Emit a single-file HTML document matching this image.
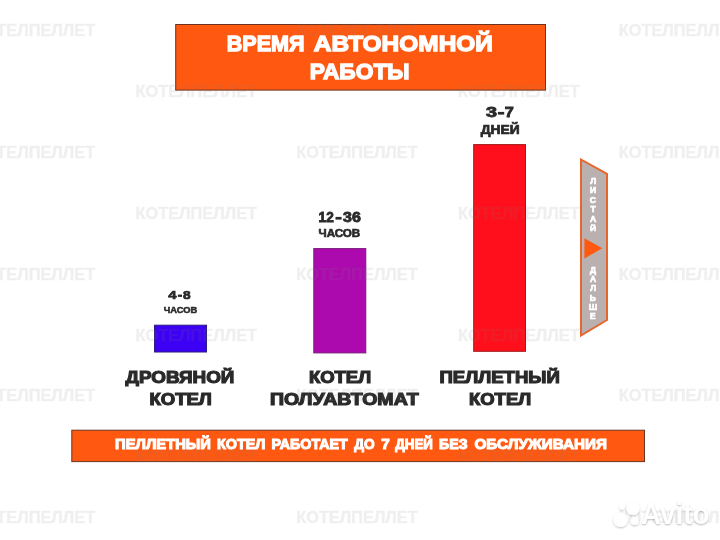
<!DOCTYPE html>
<html lang="ru"><head><meta charset="utf-8"><title>Время автономной работы</title>
<style>
html,body{margin:0;padding:0;width:720px;height:540px;overflow:hidden;background:#fff;}
#root{will-change:transform;width:720px;height:540px;position:absolute;left:0;top:0;overflow:hidden;background:#fff;font-family:"Liberation Sans",sans-serif;font-weight:bold;}
.t,.w{position:absolute;left:0;top:0;white-space:nowrap;transform-origin:0 0;font-weight:bold;font-size:100px;line-height:100px;}
.box{position:absolute;box-sizing:border-box;}
svg{position:absolute;left:0;top:0;}
</style></head><body><div id="root">

<svg width="720" height="540" viewBox="0 0 720 540">
<rect x="175.7" y="24.5" width="369.8" height="65.6" fill="#ff5810" stroke="#6a3520" stroke-width="1"/>
<rect x="154.55" y="325.2" width="51.95" height="26.8" fill="#3c00f4" stroke="#2a1a80" stroke-width="1"/>
<rect x="313.8" y="248.6" width="52" height="104.3" fill="#ac0aae" stroke="#7a1a7a" stroke-width="1"/>
<rect x="473.7" y="144.6" width="51.8" height="206.7" fill="#ff0f1c" stroke="#a01a1a" stroke-width="1"/>
<rect x="71.8" y="430.2" width="572.7" height="31.4" fill="#ff5810" stroke="#6a3520" stroke-width="1"/>
<polygon points="581,159.5 607,173.9 607,320 581,335.6" fill="#bbb0b0" stroke="#e6662e" stroke-width="2"/>
<rect x="497.9" y="111.9" width="6.3" height="2.7" fill="#2a2a2a"/>
<rect x="335.5" y="216.9" width="6.1" height="2.7" fill="#2a2a2a"/>
<rect x="177.9" y="294.6" width="4.1" height="2.3" fill="#2a2a2a"/>
<polygon points="584.4,238.2 602.3,248.3 584.4,258.4" fill="#ff5810"/>
</svg>
<span class="t" style="transform:translate(226.75px,31.71px) scale(0.2157,0.2233);color:#fff;-webkit-text-stroke:6.0px #fff;">ВРЕМЯ</span>
<span class="t" style="transform:translate(313.87px,31.71px) scale(0.2445,0.2233);color:#fff;-webkit-text-stroke:6.0px #fff;">АВТОНОМНОЙ</span>
<span class="t" style="transform:translate(309.70px,59.67px) scale(0.2277,0.2267);color:#fff;-webkit-text-stroke:6.0px #fff;">РАБОТЫ</span>
<span class="t" style="transform:translate(486.00px,104.80px) scale(0.1982,0.1481);color:#2a2a2a;-webkit-text-stroke:6.0px #2a2a2a;">3</span>
<span class="t" style="transform:translate(504.76px,104.80px) scale(0.1619,0.1481);color:#2a2a2a;-webkit-text-stroke:6.0px #2a2a2a;">7</span>
<span class="t" style="transform:translate(480.68px,123.38px) scale(0.1380,0.1213);color:#2a2a2a;-webkit-text-stroke:6.0px #2a2a2a;">ДНЕЙ</span>
<span class="t" style="transform:translate(318.62px,209.91px) scale(0.1362,0.1468);color:#2a2a2a;-webkit-text-stroke:6.0px #2a2a2a;">12</span>
<span class="t" style="transform:translate(342.98px,209.91px) scale(0.1604,0.1468);color:#2a2a2a;-webkit-text-stroke:6.0px #2a2a2a;">36</span>
<span class="t" style="transform:translate(318.51px,228.33px) scale(0.1159,0.1013);color:#2a2a2a;-webkit-text-stroke:6.0px #2a2a2a;">ЧАСОВ</span>
<span class="t" style="transform:translate(168.22px,289.56px) scale(0.1487,0.1169);color:#2a2a2a;-webkit-text-stroke:6.0px #2a2a2a;">4</span>
<span class="t" style="transform:translate(183.10px,289.56px) scale(0.1369,0.1169);color:#2a2a2a;-webkit-text-stroke:6.0px #2a2a2a;">8</span>
<span class="t" style="transform:translate(163.87px,306.35px) scale(0.0925,0.0840);color:#2a2a2a;-webkit-text-stroke:6.0px #2a2a2a;">ЧАСОВ</span>
<span class="t" style="transform:translate(125.47px,367.93px) scale(0.1885,0.1724);color:#2a2a2a;-webkit-text-stroke:7.0px #2a2a2a;">ДРОВЯНОЙ</span>
<span class="t" style="transform:translate(149.44px,391.04px) scale(0.1853,0.1632);color:#2a2a2a;-webkit-text-stroke:7.0px #2a2a2a;">КОТЕЛ</span>
<span class="t" style="transform:translate(308.95px,367.93px) scale(0.1846,0.1724);color:#2a2a2a;-webkit-text-stroke:7.0px #2a2a2a;">КОТЕЛ</span>
<span class="t" style="transform:translate(269.91px,391.04px) scale(0.1957,0.1632);color:#2a2a2a;-webkit-text-stroke:7.0px #2a2a2a;">ПОЛУАВТОМАТ</span>
<span class="t" style="transform:translate(439.44px,367.93px) scale(0.1856,0.1724);color:#2a2a2a;-webkit-text-stroke:7.0px #2a2a2a;">ПЕЛЛЕТНЫЙ</span>
<span class="t" style="transform:translate(468.95px,391.04px) scale(0.1849,0.1632);color:#2a2a2a;-webkit-text-stroke:7.0px #2a2a2a;">КОТЕЛ</span>
<span class="t" style="transform:translate(115.09px,437.23px) scale(0.1477,0.1425);color:#fff;-webkit-text-stroke:7.5px #fff;">ПЕЛЛЕТНЫЙ</span>
<span class="t" style="transform:translate(217.11px,437.23px) scale(0.1435,0.1425);color:#fff;-webkit-text-stroke:7.5px #fff;">КОТЕЛ</span>
<span class="t" style="transform:translate(271.61px,437.23px) scale(0.1422,0.1425);color:#fff;-webkit-text-stroke:7.5px #fff;">РАБОТАЕТ</span>
<span class="t" style="transform:translate(354.13px,437.23px) scale(0.1370,0.1425);color:#fff;-webkit-text-stroke:7.5px #fff;">ДО</span>
<span class="t" style="transform:translate(381.14px,437.41px) scale(0.1528,0.1389);color:#fff;-webkit-text-stroke:7.5px #fff;">7</span>
<span class="t" style="transform:translate(395.37px,437.23px) scale(0.1330,0.1425);color:#fff;-webkit-text-stroke:7.5px #fff;">ДНЕЙ</span>
<span class="t" style="transform:translate(439.11px,437.23px) scale(0.1418,0.1425);color:#fff;-webkit-text-stroke:7.5px #fff;">БЕЗ</span>
<span class="t" style="transform:translate(474.46px,437.23px) scale(0.1526,0.1425);color:#fff;-webkit-text-stroke:7.5px #fff;">ОБСЛУЖИВАНИЯ</span>
<span class="t" style="transform:translate(590.26px,176.71px) scale(0.0857,0.0857);color:#fff;-webkit-text-stroke:8.0px #fff">Л</span>
<span class="t" style="transform:translate(589.94px,186.11px) scale(0.0857,0.0857);color:#fff;-webkit-text-stroke:8.0px #fff">И</span>
<span class="t" style="transform:translate(589.85px,195.51px) scale(0.0857,0.0857);color:#fff;-webkit-text-stroke:8.0px #fff">С</span>
<span class="t" style="transform:translate(590.39px,204.91px) scale(0.0857,0.0857);color:#fff;-webkit-text-stroke:8.0px #fff">Т</span>
<span class="t" style="transform:translate(589.91px,214.31px) scale(0.0857,0.0857);color:#fff;-webkit-text-stroke:8.0px #fff">А</span>
<span class="t" style="transform:translate(589.94px,224.52px) scale(0.0857,0.0766);color:#fff;-webkit-text-stroke:8.0px #fff">Й</span>
<span class="t" style="transform:translate(590.02px,265.73px) scale(0.0844,0.0844);color:#fff;-webkit-text-stroke:8.0px #fff">Д</span>
<span class="t" style="transform:translate(589.96px,274.97px) scale(0.0844,0.0844);color:#fff;-webkit-text-stroke:8.0px #fff">А</span>
<span class="t" style="transform:translate(590.30px,284.21px) scale(0.0844,0.0844);color:#fff;-webkit-text-stroke:8.0px #fff">Л</span>
<span class="t" style="transform:translate(589.83px,293.45px) scale(0.0844,0.0844);color:#fff;-webkit-text-stroke:8.0px #fff">Ь</span>
<span class="t" style="transform:translate(588.76px,302.69px) scale(0.0844,0.0844);color:#fff;-webkit-text-stroke:8.0px #fff">Ш</span>
<span class="t" style="transform:translate(590.07px,311.93px) scale(0.0844,0.0844);color:#fff;-webkit-text-stroke:8.0px #fff">Е</span>
<span class="w" style="transform:translate(-26.42px,22.64px) scale(0.1635,0.1611);color:#808080;-webkit-text-stroke:3.0px #808080;opacity:0.118;">КОТЕЛПЕЛЛЕТ</span>
<span class="w" style="transform:translate(296.18px,22.64px) scale(0.1635,0.1611);color:#808080;-webkit-text-stroke:3.0px #808080;opacity:0.118;">КОТЕЛПЕЛЛЕТ</span>
<span class="w" style="transform:translate(618.78px,22.64px) scale(0.1635,0.1611);color:#808080;-webkit-text-stroke:3.0px #808080;opacity:0.118;">КОТЕЛПЕЛЛЕТ</span>
<span class="w" style="transform:translate(135.48px,83.49px) scale(0.1635,0.1611);color:#808080;-webkit-text-stroke:3.0px #808080;opacity:0.118;">КОТЕЛПЕЛЛЕТ</span>
<span class="w" style="transform:translate(458.08px,83.49px) scale(0.1635,0.1611);color:#808080;-webkit-text-stroke:3.0px #808080;opacity:0.118;">КОТЕЛПЕЛЛЕТ</span>
<span class="w" style="transform:translate(-26.42px,144.34px) scale(0.1635,0.1611);color:#808080;-webkit-text-stroke:3.0px #808080;opacity:0.118;">КОТЕЛПЕЛЛЕТ</span>
<span class="w" style="transform:translate(296.18px,144.34px) scale(0.1635,0.1611);color:#808080;-webkit-text-stroke:3.0px #808080;opacity:0.118;">КОТЕЛПЕЛЛЕТ</span>
<span class="w" style="transform:translate(618.78px,144.34px) scale(0.1635,0.1611);color:#808080;-webkit-text-stroke:3.0px #808080;opacity:0.118;">КОТЕЛПЕЛЛЕТ</span>
<span class="w" style="transform:translate(135.48px,205.19px) scale(0.1635,0.1611);color:#808080;-webkit-text-stroke:3.0px #808080;opacity:0.118;">КОТЕЛПЕЛЛЕТ</span>
<span class="w" style="transform:translate(458.08px,205.19px) scale(0.1635,0.1611);color:#808080;-webkit-text-stroke:3.0px #808080;opacity:0.118;">КОТЕЛПЕЛЛЕТ</span>
<span class="w" style="transform:translate(-26.42px,266.04px) scale(0.1635,0.1611);color:#808080;-webkit-text-stroke:3.0px #808080;opacity:0.118;">КОТЕЛПЕЛЛЕТ</span>
<span class="w" style="transform:translate(296.18px,266.04px) scale(0.1635,0.1611);color:#808080;-webkit-text-stroke:3.0px #808080;opacity:0.118;">КОТЕЛПЕЛЛЕТ</span>
<span class="w" style="transform:translate(618.78px,266.04px) scale(0.1635,0.1611);color:#808080;-webkit-text-stroke:3.0px #808080;opacity:0.118;">КОТЕЛПЕЛЛЕТ</span>
<span class="w" style="transform:translate(135.48px,326.89px) scale(0.1635,0.1611);color:#808080;-webkit-text-stroke:3.0px #808080;opacity:0.118;">КОТЕЛПЕЛЛЕТ</span>
<span class="w" style="transform:translate(458.08px,326.89px) scale(0.1635,0.1611);color:#808080;-webkit-text-stroke:3.0px #808080;opacity:0.118;">КОТЕЛПЕЛЛЕТ</span>
<span class="w" style="transform:translate(-26.42px,387.74px) scale(0.1635,0.1611);color:#808080;-webkit-text-stroke:3.0px #808080;opacity:0.118;">КОТЕЛПЕЛЛЕТ</span>
<span class="w" style="transform:translate(296.18px,387.74px) scale(0.1635,0.1611);color:#808080;-webkit-text-stroke:3.0px #808080;opacity:0.118;">КОТЕЛПЕЛЛЕТ</span>
<span class="w" style="transform:translate(618.78px,387.74px) scale(0.1635,0.1611);color:#808080;-webkit-text-stroke:3.0px #808080;opacity:0.118;">КОТЕЛПЕЛЛЕТ</span>
<span class="w" style="transform:translate(135.48px,448.59px) scale(0.1635,0.1611);color:#808080;-webkit-text-stroke:3.0px #808080;opacity:0.118;">КОТЕЛПЕЛЛЕТ</span>
<span class="w" style="transform:translate(458.08px,448.59px) scale(0.1635,0.1611);color:#808080;-webkit-text-stroke:3.0px #808080;opacity:0.118;">КОТЕЛПЕЛЛЕТ</span>
<span class="w" style="transform:translate(-26.42px,509.44px) scale(0.1635,0.1611);color:#808080;-webkit-text-stroke:3.0px #808080;opacity:0.118;">КОТЕЛПЕЛЛЕТ</span>
<span class="w" style="transform:translate(296.18px,509.44px) scale(0.1635,0.1611);color:#808080;-webkit-text-stroke:3.0px #808080;opacity:0.118;">КОТЕЛПЕЛЛЕТ</span>
<span class="w" style="transform:translate(618.78px,509.44px) scale(0.1635,0.1611);color:#808080;-webkit-text-stroke:3.0px #808080;opacity:0.118;">КОТЕЛПЕЛЛЕТ</span>
<svg width="720" height="540" viewBox="0 0 720 540">
<defs><filter id="sh" x="-30%" y="-30%" width="160%" height="170%"><feGaussianBlur in="SourceAlpha" stdDeviation="1.0"/><feOffset dx="0" dy="0.5"/><feComponentTransfer><feFuncA type="linear" slope="0.26"/></feComponentTransfer><feMerge><feMergeNode/><feMergeNode in="SourceGraphic"/></feMerge></filter></defs>
<g filter="url(#sh)" fill="#fff">
<circle cx="620.6" cy="519.8" r="7.2"/><circle cx="633" cy="508.6" r="6.5"/><circle cx="622.3" cy="506.9" r="2.7"/><circle cx="634.7" cy="521" r="4.1"/>
</g></svg>
<span class="t" style="transform:translate(641.01px,499.71px) scale(0.2775,0.2899);color:#fff;text-shadow:0 2px 7px rgba(0,0,0,0.28);">Avito</span>
</div></body></html>
